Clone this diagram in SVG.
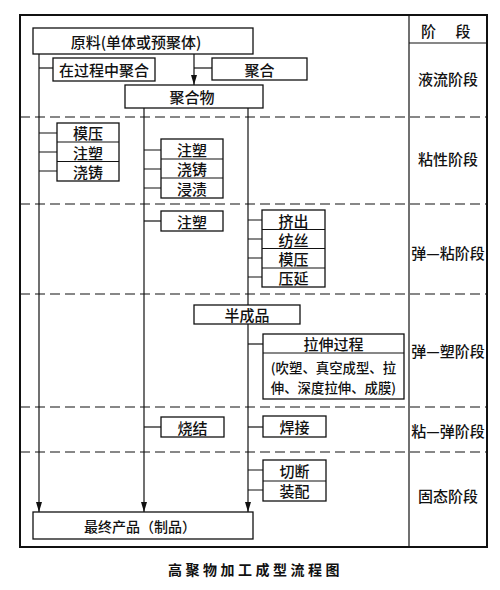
<svg xmlns="http://www.w3.org/2000/svg" width="500" height="590" viewBox="0 0 500 590">
<style>
.bx{fill:#fff;stroke:#111;stroke-width:1.3}
.ln{fill:none;stroke:#111;stroke-width:1.2}
.ds{fill:none;stroke:#111;stroke-width:1.2;stroke-dasharray:10 5}
.t{font-family:"Noto Sans CJK SC","Noto Sans",sans-serif;font-size:15px;fill:#111;text-anchor:middle;dominant-baseline:central;font-weight:500}
.s{font-size:13.4px}
.cap{font-family:"Noto Sans CJK SC",sans-serif;font-size:14px;font-weight:700;fill:#111;letter-spacing:3.5px}
</style>
<defs>
<marker id="ar" viewBox="0 0 6 10" refX="3" refY="10" markerWidth="6" markerHeight="10" markerUnits="userSpaceOnUse" orient="auto-start-reverse">
<path d="M0,0 L3,10 L6,0 Z" fill="#111"/>
</marker>
<marker id="ad" viewBox="0 0 6 10" refX="3" refY="10" markerWidth="6" markerHeight="10" markerUnits="userSpaceOnUse" orient="0">
<path d="M0,0 L3,10 L6,0 Z" fill="#111"/>
</marker>
</defs>
<rect width="500" height="590" fill="#fff"/>
<g id="frame">
<rect x="20" y="15" width="467" height="532" fill="none" stroke="#111" stroke-width="2"/>
<line class="ln" x1="409" y1="15" x2="409" y2="547"/>
<line class="ln" x1="409" y1="43" x2="487" y2="43"/>
<line class="ds" x1="20" y1="117" x2="487" y2="117"/>
<line class="ds" x1="20" y1="204" x2="487" y2="204"/>
<line class="ds" x1="20" y1="294" x2="487" y2="294"/>
<line class="ds" x1="20" y1="407" x2="487" y2="407"/>
<line class="ds" x1="20" y1="452" x2="487" y2="452"/>
</g>
<g id="connectors">
<path class="ln" d="M39,54 V512" marker-end="url(#ad)"/>
<path class="ln" d="M39,68 H53"/>
<path class="ln" d="M194,54 V85" marker-end="url(#ad)"/>
<path class="ln" d="M194,68 H212"/>
<path class="ln" d="M144,108 V512" marker-end="url(#ad)"/>
<path class="ln" d="M248,108 V512" marker-end="url(#ad)"/>
<path class="ln" d="M39,133 H57 M39,152 H57 M39,171 H57"/>
<path class="ln" d="M144,150 H161 M144,169 H161 M144,188 H161"/>
<path class="ln" d="M144,221 H161"/>
<path class="ln" d="M248,220 H262 M248,239 H262 M248,258 H262 M248,277 H262"/>
<path class="ln" d="M248,344 H263"/>
<path class="ln" d="M144,427 H161"/>
<path class="ln" d="M248,427 H263"/>
<path class="ln" d="M248,470 H263 M248,490 H263"/>
</g>
<g id="n-raw"><rect class="bx" x="33" y="28" width="220" height="26"/><text class="t" x="136" y="41">原料(单体或预聚体)</text></g>
<g id="n-inproc"><rect class="bx" x="53" y="58" width="102" height="23"/><text class="t" x="104" y="69.5">在过程中聚合</text></g>
<g id="n-polym"><rect class="bx" x="212" y="58" width="95" height="22"/><text class="t" x="259.5" y="69">聚合</text></g>
<g id="n-polymer"><rect class="bx" x="125" y="85" width="138" height="23"/><text class="t" x="192" y="96.5">聚合物</text></g>
<g id="n-visc1"><rect class="bx" x="57" y="123" width="62" height="58"/><line class="ln" x1="57" y1="142" x2="119" y2="142"/><line class="ln" x1="57" y1="161.5" x2="119" y2="161.5"/>
<text class="t" x="88" y="132.5">模压</text><text class="t" x="88" y="152">注塑</text><text class="t" x="88" y="171.5">浇铸</text></g>
<g id="n-visc2"><rect class="bx" x="161" y="139" width="62" height="59"/><line class="ln" x1="161" y1="159" x2="223" y2="159"/><line class="ln" x1="161" y1="178" x2="223" y2="178"/>
<text class="t" x="192" y="149">注塑</text><text class="t" x="192" y="168.5">浇铸</text><text class="t" x="192" y="188">浸渍</text></g>
<g id="n-inj"><rect class="bx" x="161" y="211" width="62" height="20"/><text class="t" x="192" y="221">注塑</text></g>
<g id="n-ev"><rect class="bx" x="262" y="210" width="63" height="77"/><line class="ln" x1="262" y1="229.5" x2="325" y2="229.5"/><line class="ln" x1="262" y1="248.5" x2="325" y2="248.5"/><line class="ln" x1="262" y1="268" x2="325" y2="268"/>
<text class="t" x="293.5" y="220">挤出</text><text class="t" x="293.5" y="239">纺丝</text><text class="t" x="293.5" y="258">模压</text><text class="t" x="293.5" y="277.5">压延</text></g>
<g id="n-semi"><rect class="bx" x="194" y="305" width="106" height="19"/><text class="t" x="247" y="314.5">半成品</text></g>
<g id="n-stretch"><rect class="bx" x="263" y="334" width="141" height="65"/><line class="ln" x1="263" y1="353" x2="404" y2="353"/>
<text class="t" x="333.5" y="343.5">拉伸过程</text><text class="t s" x="333.5" y="366.5">(吹塑、真空成型、拉</text><text class="t s" x="333.5" y="386.5">伸、深度拉伸、成膜)</text></g>
<g id="n-sinter"><rect class="bx" x="161" y="417" width="63" height="20"/><text class="t" x="192.5" y="427">烧结</text></g>
<g id="n-weld"><rect class="bx" x="263" y="416" width="63" height="21"/><text class="t" x="294.5" y="426.5">焊接</text></g>
<g id="n-solid"><rect class="bx" x="263" y="460" width="63" height="41"/><line class="ln" x1="263" y1="481" x2="326" y2="481"/>
<text class="t" x="294.5" y="470">切断</text><text class="t" x="294.5" y="490.5">装配</text></g>
<g id="n-final"><rect class="bx" x="33" y="512" width="220" height="27"/><text class="t" x="140" y="525.5" style="font-size:14px">最终产品（制品）</text></g>
<g id="stages">
<text class="t" x="421" y="30" style="text-anchor:start;letter-spacing:8px">阶 段</text>
<text class="t" x="448" y="78">液流阶段</text>
<text class="t" x="448" y="158">粘性阶段</text>
<text class="t" x="448" y="252">弹—粘阶段</text>
<text class="t" x="448" y="350">弹—塑阶段</text>
<text class="t" x="448" y="430">粘—弹阶段</text>
<text class="t" x="448" y="495">固态阶段</text>
</g>
<text class="cap" x="168" y="575">高聚物加工成型流程图</text>
</svg>
